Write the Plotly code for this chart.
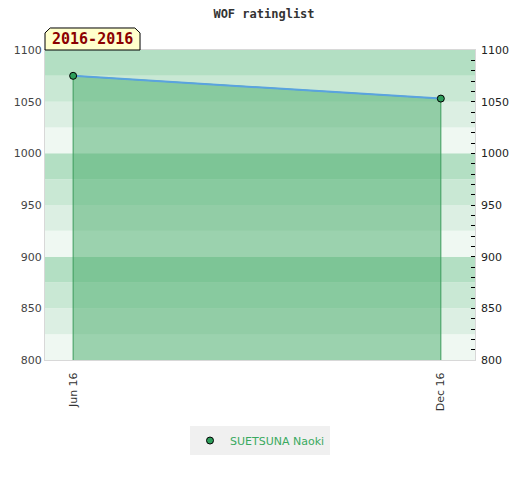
import plotly.graph_objects as go

# rating history
dates = ["2016-06-01", "2016-12-01"]
ratings = [1075, 1053]
tick_labels = ["Jun 16", "Dec 16"]
player = "SUETSUNA Naoki"
period = "2016-2016"

y_min, y_max = 800, 1100
band_step = 25
band_colors = ["#eff8f2", "#dcefe3", "#c9e8d4", "#b3dfc3"]  # bottom -> top within each 100

fig = go.Figure()

# background bands
shapes = []
lo = y_min
i = 0
while lo < y_max:
    shapes.append(dict(type="rect", xref="paper", yref="y", x0=0, x1=1, y0=lo, y1=lo + band_step,
                       fillcolor=band_colors[i % 4], line_width=0, layer="below"))
    lo += band_step
    i += 1

# badge with clipped top corners
shapes.append(dict(type="path", xref="paper", yref="paper",
                   path="M 0 1 L 0 1.055 L 0.012 1.071 L 0.209 1.071 L 0.221 1.055 L 0.221 1 Z",
                   fillcolor="#ffffcc", line=dict(color="#000000", width=1), layer="above"))

# filled area down to the axis minimum, with drop lines
fig.add_trace(go.Scatter(
    x=[dates[0]] + dates + [dates[-1]],
    y=[y_min] + ratings + [y_min],
    fill="toself", fillcolor="rgba(71,172,106,0.5)",
    line=dict(color="#3b9b5c", width=1), mode="lines",
    hoverinfo="skip", showlegend=False))

fig.add_trace(go.Scatter(
    x=dates, y=ratings, mode="lines", showlegend=False,
    line=dict(color="#5aa3e0", width=2), hoverinfo="skip"))

fig.add_trace(go.Scatter(
    x=dates, y=ratings, mode="markers", name=player,
    marker=dict(size=7, color="#2e9e5b", line=dict(color="#000000", width=1))))

# invisible trace for the right axis
fig.add_trace(go.Scatter(x=dates, y=ratings, yaxis="y2", mode="none",
                         showlegend=False, hoverinfo="skip"))

fig.update_layout(
    width=512, height=472,
    margin=dict(l=37, r=45, t=42, b=120, autoexpand=False),
    paper_bgcolor="white", plot_bgcolor="white",
    title=dict(text="<b>WOF ratinglist</b>", x=0.5, xanchor="center", y=0.996, yanchor="top",
               font=dict(family="DejaVu Sans Mono", size=12, color="#333333")),
    xaxis=dict(range=["2016-05-18", "2016-12-18"], tickvals=dates, ticktext=tick_labels,
               tickangle=-90, showgrid=False, zeroline=False, ticklabelstandoff=7,
               showline=True, linecolor="#d8d8d8", mirror=True,
               tickfont=dict(family="DejaVu Sans", size=11, color="#333333")),
    yaxis=dict(range=[y_min, y_max], dtick=50, showgrid=False, zeroline=False,
               showline=True, linecolor="#d8d8d8", mirror=True, automargin=False,
               tickfont=dict(family="DejaVu Sans", size=11, color="#444444")),
    yaxis2=dict(range=[y_min, y_max], dtick=50, overlaying="y", side="right",
                showgrid=False, zeroline=False, ticks="inside", ticklen=4, automargin=False,
                ticklabelstandoff=5,
                tickcolor="#000000", minor=dict(dtick=10, ticks="inside", ticklen=4, tickcolor="#000000"),
                tickfont=dict(family="DejaVu Sans", size=11, color="#222222")),
    shapes=shapes,
    annotations=[dict(text="<b>" + period + "</b>", xref="paper", yref="paper", x=0.1105, y=1.037,
                      xanchor="center", yanchor="middle", showarrow=False,
                      font=dict(family="DejaVu Sans Mono", size=15, color="#8b0000"))],
    legend=dict(orientation="h", x=0.5, xanchor="center", y=-0.213, yanchor="top",
                bgcolor="#f0f0f0", itemwidth=30,
                font=dict(family="DejaVu Sans", size=11, color="#3aaa5f")),
)

fig.write_html("out.html")
